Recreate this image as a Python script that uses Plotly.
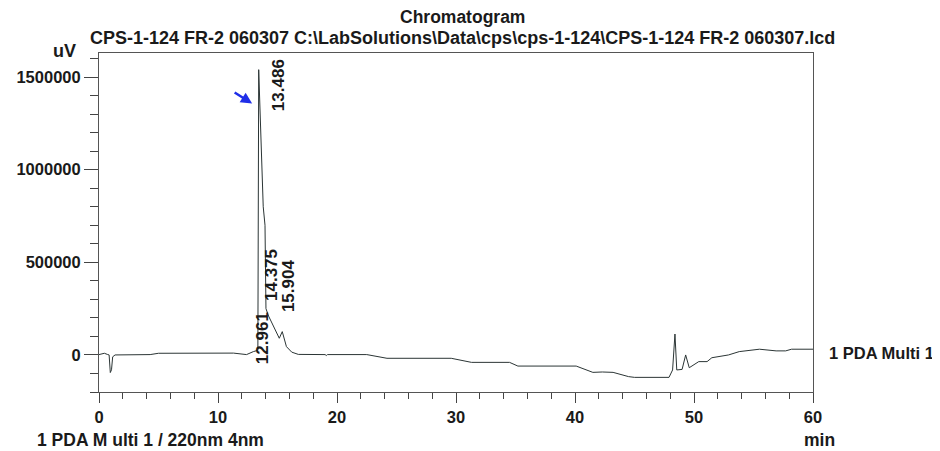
import plotly.graph_objects as go

# Chromatogram trace (time in min, signal in uV)
time_min = [0.0, 0.3, 0.45, 0.7, 0.85, 0.95, 1.05, 1.15, 1.35, 4.3, 5.0, 11.3, 12.4,
            12.97, 13.35, 13.42, 13.8, 13.95, 14.0, 14.03, 14.25, 14.6, 15.15, 15.4,
            15.75, 16.2, 16.75, 19.0, 19.1, 19.2, 22.5, 24.2, 29.6, 31.3, 34.5, 35.2,
            40.1, 41.5, 42.3, 43.2, 44.5, 45.0, 47.9, 48.2, 48.4, 48.55, 49.0, 49.3,
            49.6, 50.4, 51.1, 51.5, 52.9, 53.8, 55.5, 56.9, 57.7, 58.2, 60.0]
signal_uv = [2000, 5000, 9000, 3000, 0, -95000, -80000, -10000, 0, 2000, 9000, 10000, 2000,
             18000, 25000, 1540000, 800000, 700000, 480000, 250000, 210000, 160000, 90000, 126000,
             45000, 15000, 3000, 2000, -3000, 2000, 2000, -18000, -18000, -40000, -40000, -60000,
             -60000, -94000, -92000, -94000, -117000, -121000, -121000, -81000, 113000, -81000, -78000, 0,
             -69000, -36000, -36000, -15000, 0, 18000, 31000, 22000, 22000, 31000, 31000]

# Peak labels: retention time, label y position (uV), pixel shift
peak_times = [13.486, 14.375, 15.904, 12.961]
peak_label_y = [1459000, 432000, 373000, 92000]
peak_label_shift = [19, 2, 1, 10]

x_ticks = [0, 10, 20, 30, 40, 50, 60]
y_ticks = [0, 500000, 1000000, 1500000]

FONT = "Liberation Sans"
TXT = "#1a1a1a"
W, H = 940, 451
OFF = 8  # page body offset
PL, PR, PT, PB = 99, 813, 53, 392  # plot area in screen pixels

fig = go.Figure()
fig.add_trace(go.Scatter(x=time_min, y=signal_uv, mode="lines",
                         line=dict(color="#2b3535", width=1), hoverinfo="skip",
                         showlegend=False))

for t, yv, sh in zip(peak_times, peak_label_y, peak_label_shift):
    fig.add_annotation(x=t, y=yv, xref="x", yref="y", text="<b>%.3f</b>" % t,
                       textangle=-90, showarrow=False, xshift=sh,
                       font=dict(family=FONT, size=17, color=TXT))

# blue arrow pointing at main peak
fig.add_annotation(x=12.87, y=1357000, xref="x", yref="y", ax=-19, ay=-12,
                   text="", showarrow=True, arrowhead=2, arrowsize=0.9,
                   arrowwidth=2.5, arrowcolor="#1f2ee8")

paper_texts = [
    ("<b>Chromatogram</b>", 462, 17, "center", 17.5),
    ("<b>CPS-1-124 FR-2 060307 C:\\LabSolutions\\Data\\cps\\cps-1-124\\CPS-1-124 FR-2 060307.lcd</b>", 462, 38, "center", 18),
    ("<b>uV</b>", 64, 51, "center", 18),
    ("<b>1 PDA Multi 1</b>", 827, 353, "left", 16.5),
    ("<b>min</b>", 819, 440, "center", 17.5),
    ("<b>1 PDA M ulti 1 / 220nm 4nm</b>", 35, 440, "left", 17.5),
]
for txt, px, py, anc, fs in paper_texts:
    fig.add_annotation(x=(px - PL) / (PR - PL), y=(PB - py) / (PB - PT),
                       xref="paper", yref="paper",
                       text=txt, showarrow=False, xanchor=anc, yanchor="middle",
                       font=dict(family=FONT, size=fs, color=TXT))

fig.update_layout(
    width=W, height=H,
    margin=dict(l=PL - OFF, r=W - PR + OFF, t=PT - OFF, b=H - PB + OFF, autoexpand=False),
    paper_bgcolor="white", plot_bgcolor="white",
    font=dict(family=FONT, size=16, color=TXT),
    xaxis=dict(range=[0, 60], tickvals=x_ticks, ticktext=["<b>%d</b>" % v for v in x_ticks],
               ticks="outside", ticklen=10, tickcolor="#444", showline=True,
               linecolor="#555", linewidth=1, mirror=True, showgrid=False, zeroline=False,
               minor=dict(dtick=2, ticks="outside", ticklen=6, tickcolor="#444"),
               tickfont=dict(family=FONT, size=16.5, color=TXT)),
    yaxis=dict(range=[-200000, 1630000], tickvals=y_ticks, ticktext=["<b>%d</b>" % v for v in y_ticks],
               ticks="outside", ticklen=14, tickcolor="#444", showline=True,
               linecolor="#555", linewidth=1, mirror=True, showgrid=False, zeroline=False,
               minor=dict(dtick=100000, tick0=0, ticks="outside", ticklen=8, tickcolor="#444"),
               tickfont=dict(family=FONT, size=16.5, color=TXT)),
)

fig.write_html("out.html")
